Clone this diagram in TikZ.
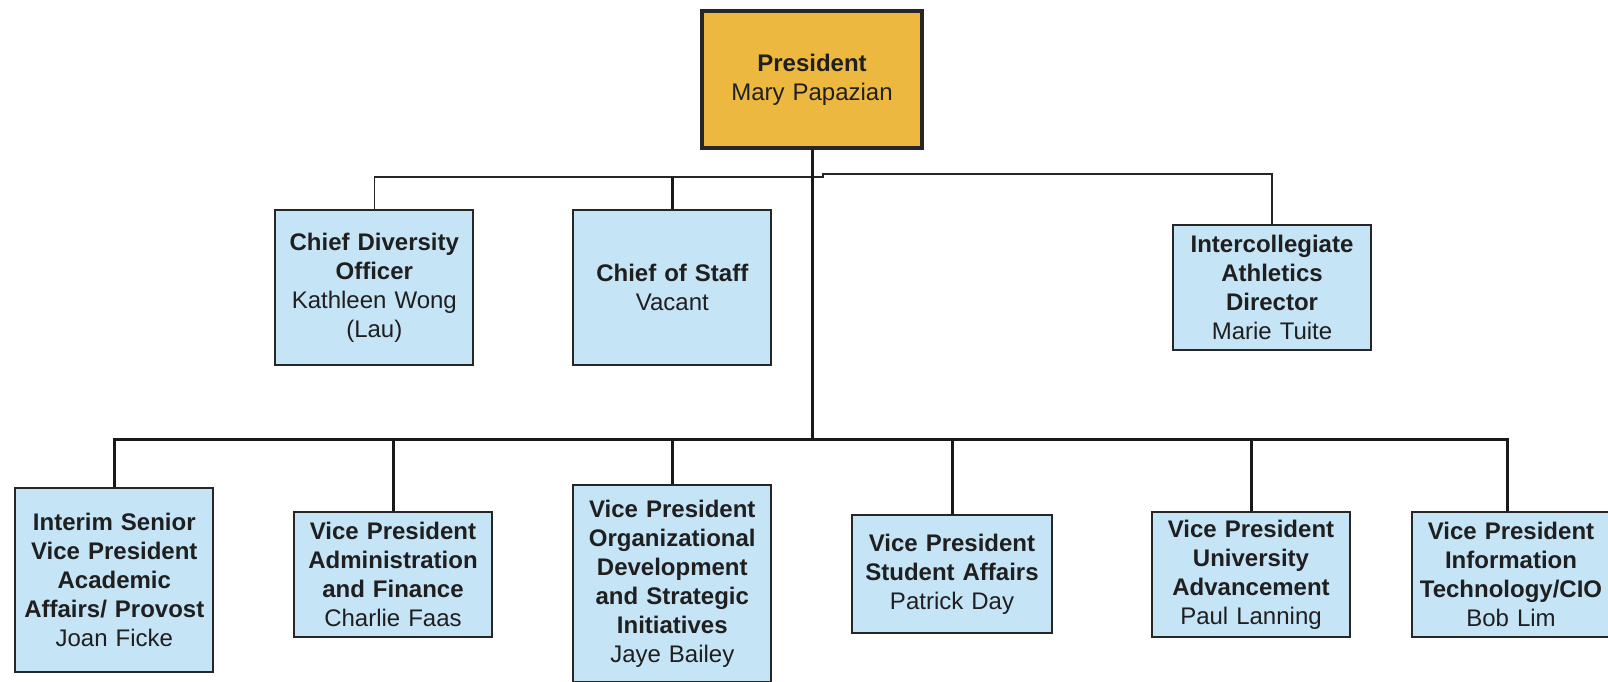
\documentclass[tikz,border=0pt]{standalone}
\usepackage{fontspec}
\setmainfont{Liberation Sans}
\newcommand{\post}[2]{{\bfseries #1}\\#2}

\begin{document}
\begin{tikzpicture}[x=1pt, y=-1pt]
    \tikzstyle{every node} = [font=\fontsize{24}{29}\selectfont, text=black!88]
    \tikzstyle{unit} = [draw=black!85, line width=2pt, fill=ublue, inner sep=2pt, text width=192pt, align=center, minimum width=198pt]
    \tikzstyle{head} = [unit, fill=uorange, line width=4pt, minimum width=220pt, minimum height=137pt]
    \tikzstyle{link} = [line width=3pt, draw=black!90]
    \tikzstyle{thinlink} = [line width=1.5pt, draw=black!85]

    \definecolor{uorange}{rgb}{0.929,0.722,0.251}
    \definecolor{ublue}{rgb}{0.773,0.894,0.965}

    \useasboundingbox (0,0) rectangle (1608,682);

    % top
    \node[head] (pres) at (812,79.5) {\post{President}{Mary Papazian}};

    \node[unit, minimum height=155pt] (cdo) at (374.3,287.5) {\post{Chief Diversity\\Officer}{Kathleen Wong\\(Lau)}};
    \node[unit, minimum height=155pt] (cos) at (672.3,287.5) {\post{Chief of Staff}{Vacant}};
    \node[unit, minimum height=125pt] (iad) at (1272,287.5) {\post{Intercollegiate\\Athletics\\Director}{Marie Tuite}};

    % vice presidents
    \node[unit, minimum height=184pt] (aa) at (114.3,579.7) {\post{Interim Senior\\Vice President\\Academic\\Affairs/ Provost}{Joan Ficke}};
    \node[unit, minimum height=125pt] (af) at (393,574.3) {\post{Vice President\\Administration\\and Finance}{Charlie Faas}};
    \node[unit, minimum height=197pt] (od) at (672.3,583.5) {\post{Vice President\\Organizational\\Development\\and Strategic\\Initiatives}{Jaye Bailey}};
    \node[unit, minimum width=200pt, minimum height=118pt] (sa) at (952,574) {\post{Vice President\\Student Affairs}{Patrick Day}};
    \node[unit, minimum height=125pt] (ua) at (1251,574.3) {\post{Vice President\\University\\Advancement}{Paul Lanning}};
    \node[unit, minimum height=125pt] (it) at (1511,574.2) {\post{Vice President\\Information\\Technology/CIO}{Bob Lim}};

    \coordinate (hub) at (811,177);
    \coordinate (bar) at (811,439);
    \coordinate (itdrop) at ([xshift=-3.4pt]it.north);

    \draw[thinlink] (cdo.north) |- (hub) -- ++(12,0) -- ++(0,-3) -| (iad.north);
    \draw[link] (cos.north) -- (cos.north |- hub);
    \draw[link] (pres.south) -- (pres.south |- bar);

    \draw[link] (aa.north) -- (aa.north |- bar) -- (itdrop |- bar) -- (itdrop);
    \foreach \n in {af,od,sa,ua}
        \draw[link] (\n.north) -- (\n.north |- bar);
\end{tikzpicture}
\end{document}
